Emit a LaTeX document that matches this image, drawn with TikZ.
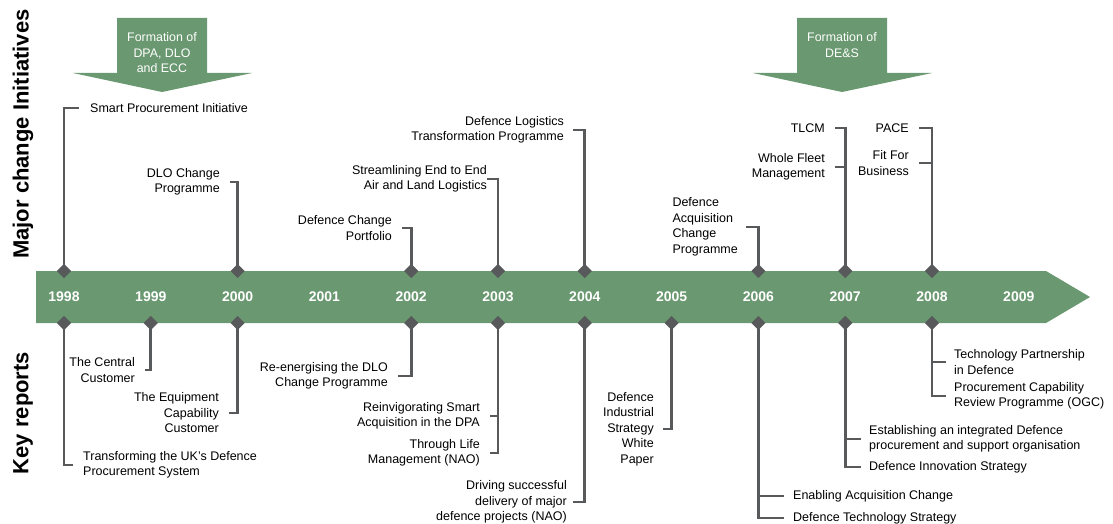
\documentclass[tikz,border=0pt]{standalone}
\usepackage{fontspec}
\setmainfont{Liberation Sans}
\usetikzlibrary{positioning}

\definecolor{barGreen}{HTML}{6A9870}
\definecolor{linkGray}{HTML}{58595B}

\begin{document}
\begin{tikzpicture}[x=1pt, y=-1pt,
    year/.style={text=white, font=\fontsize{14}{14}\selectfont\bfseries, inner sep=0pt},
    band/.style={rotate=90, font=\fontsize{22}{22}\selectfont\bfseries, inner sep=0pt},
    lbl/.style={font=\fontsize{12.5}{15.5}\selectfont, inner sep=0pt, text=black},
    lblL/.style={lbl, anchor=east, align=right},
    lblR/.style={lbl, anchor=west, align=left},
    note/.style={text=white, font=\fontsize{12.4}{15.5}\selectfont, align=center, inner sep=0pt},
    diam/.style={fill=linkGray, rotate=45, minimum size=10pt, inner sep=0pt},
    link/.style={draw=linkGray, line width=2.8pt, shorten >=10pt}]
        \useasboundingbox (0,0) rectangle (1113,524);

        % Side headings
        \node[band] (major) at (23,134) {Major change Initiatives};
        \node[band] (reports) at (23,413) {Key reports};

        % Time bar
        \fill[barGreen] (36,271) -- (1046,271) -- (1090,297) -- (1046,323) -- (36,323) -- cycle;
        \foreach \yr [count=\i from 0] in {1998,...,2009}
            \node[year] (y\yr) at ({64+86.8*\i},297) {\yr};

        % Formation arrows
        \fill[barGreen] (117,18) -- (207,18) -- (207,73) -- (252,73) -- (162,92)
            -- (73,73) -- (117,73) -- cycle;
        \node[note] (dpa) at (162,53) {Formation of\\DPA, DLO\\and ECC};
        \fill[barGreen] (797,18) -- (887,18) -- (887,73) -- (932,73) -- (842,92)
            -- (753,73) -- (797,73) -- cycle;
        \node[note] (des) at (842,45) {Formation of\\DE\&S};

        % Diamonds on the bar
        \foreach \yr in {1998,2000,2002,2003,2004,2006,2007,2008}
            \node[diam] (t\yr) at ({64+86.8*(\yr-1998)},271) {};
        \foreach \yr in {1998,1999,2000,2002,2003,2004,2005,2006,2007,2008}
            \node[diam] (b\yr) at ({64+86.8*(\yr-1998)},323) {};

        % Major change initiatives
        \node[lblR] (smart) at (90,108) {Smart Procurement Initiative};
        \node[lblL] (dloc) at (220,182) {DLO Change\\Programme};
        \node[lblL] (dcp) at (392,228) {Defence Change\\Portfolio};
        \node[lblL] (seal) at (487,179) {Streamlining End to End\\Air and Land Logistics};
        \node[lblL] (dltp) at (564,130) {Defence Logistics\\Transformation Programme};
        \node[lbl, anchor=east, align=left] (dacp) at (738,227) {Defence\\Acquisition\\Change\\Programme};
        \node[lblL] (tlcm) at (825,128) {TLCM};
        \node[lblL] (wfm) at (825,167) {Whole Fleet\\Management};
        \node[lblL] (pace) at (909,128) {PACE};
        \node[lblL] (ffb) at (909,163) {Fit For\\Business};

        \draw[link, shorten >=11pt] (t1998.center) |- (smart.west);
        \draw[link] (t2000.center) |- (dloc.east);
        \draw[link] (t2002.center) |- (dcp.east);
        \draw[link, shorten >=0pt] (t2003.center) |- (seal.east);
        \draw[link, shorten >=9pt] (t2004.center) |- (dltp.east);
        \draw[link, shorten >=8pt] (t2006.center) |- (dacp.east);
        \draw[link] (t2007.center) |- (tlcm.east);
        \draw[link] (t2007.center) |- (wfm.east);
        \draw[link] (t2008.center) |- (pace.east);
        \draw[link] (t2008.center) |- (ffb.east);

        % Key reports
        \node[lblR] (tuk) at (83,465) {Transforming the UK's Defence\\Procurement System};
        \node[lblL] (tcc) at (135,370) {The Central\\Customer};
        \node[lblL] (tecc) at (219,413) {The Equipment\\Capability\\Customer};
        \node[lblL] (redlo) at (388,376) {Re-energising the DLO\\Change Programme};
        \node[lblL] (rsa) at (480,416) {Reinvigorating Smart\\Acquisition in the DPA};
        \node[lblL] (tlm) at (480,453) {Through Life\\Management (NAO)};
        \node[lblL] (dsd) at (567,502) {Driving successful\\delivery of major\\defence projects (NAO)};
        \node[lblL] (dis) at (654,429) {Defence\\Industrial\\Strategy\\White\\Paper};
        \node[lblR] (eac) at (793,496) {Enabling Acquisition Change};
        \node[lblR] (dts) at (793,518) {Defence Technology Strategy};
        \node[lblR] (eid) at (869,439) {Establishing an integrated Defence\\procurement and support organisation};
        \node[lblR] (dinn) at (869,467) {Defence Innovation Strategy};
        \node[lblR] (tpd) at (954,362) {Technology Partnership\\in Defence};
        \node[lblR] (pcr) at (954,396) {Procurement Capability\\Review Programme (OGC)};

        \draw[link] (b1998.center) |- (tuk.west);
        \draw[link] (b1999.center) |- (tcc.east);
        \draw[link] (b2000.center) |- (tecc.east);
        \draw[link] (b2002.center) |- (redlo.east);
        \draw[link] (b2003.center) |- (rsa.east);
        \draw[link] (b2003.center) |- (tlm.east);
        \draw[link, shorten >=6pt] (b2004.center) |- (dsd.east);
        \draw[link, shorten >=9pt] (b2005.center) |- (dis.east);
        \draw[link, shorten >=9pt] (b2006.center) |- (eac.west);
        \draw[link, shorten >=9pt] (b2006.center) |- (dts.west);
        \draw[link, shorten >=8pt] (b2007.center) |- (eid.west);
        \draw[link, shorten >=8pt] (b2007.center) |- (dinn.west);
        \draw[link, shorten >=8pt] (b2008.center) |- (tpd.west);
        \draw[link, shorten >=8pt] (b2008.center) |- (pcr.west);

    \end{tikzpicture}
\end{document}
